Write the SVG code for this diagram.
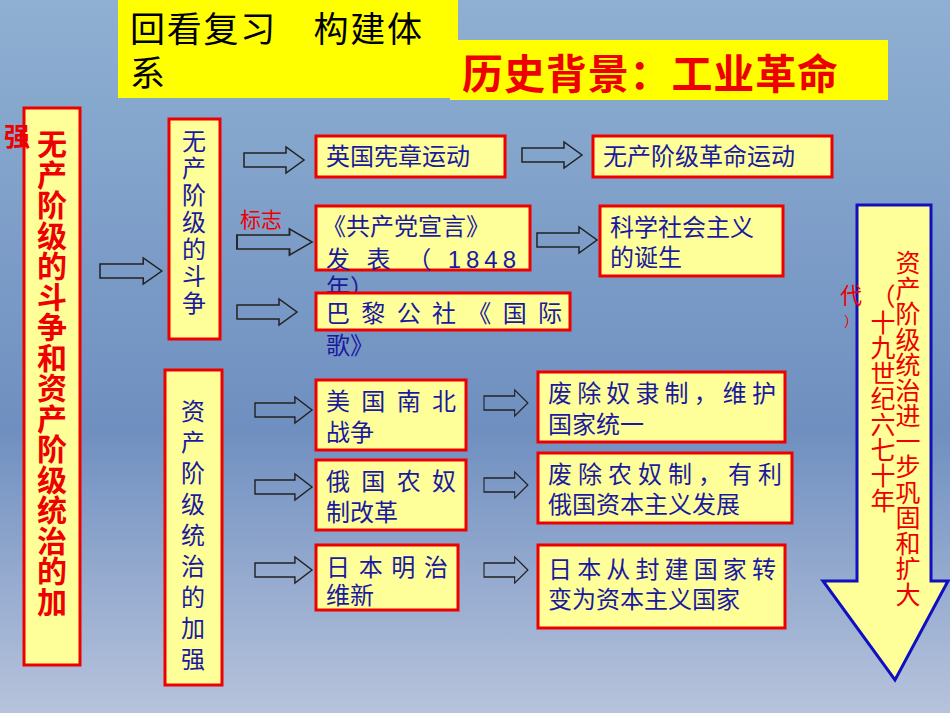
<svg xmlns="http://www.w3.org/2000/svg" width="950" height="713" viewBox="0 0 950 713">
<defs>
<linearGradient id="bg" x1="0" y1="0" x2="0" y2="1"><stop offset="0" stop-color="#8fb0d2"/><stop offset="0.6" stop-color="#6f8fc0"/><stop offset="1" stop-color="#b7c3dc"/></linearGradient>
<path id="ar" d="M0,-7 H42 V-13 L60,0 L42,13 V7 H0 Z" fill="none" stroke="#222" stroke-width="1.5"/>
<style>
.b{fill:#ffff99;stroke:#e00;stroke-width:3}
.t{font-family:"Liberation Sans","Noto Sans CJK SC",sans-serif;font-size:24px;fill:#1a1aa0}
.v{font-family:"Liberation Sans","Noto Sans CJK SC",sans-serif;text-anchor:middle}
</style>
</defs>
<rect width="950" height="713" fill="url(#bg)"/>
<g id="title"><rect x="118" y="0" width="340" height="98" fill="#ffff00"/>
<text x="130" y="42" font-family="Liberation Sans,Noto Sans CJK SC,sans-serif" font-size="35" textLength="292">回看复习　构建体</text>
<text x="130" y="86" font-family="Liberation Sans,Noto Sans CJK SC,sans-serif" font-size="35">系</text></g>
<g id="bg2"><rect x="450" y="40" width="438" height="60" fill="#ffff00"/>
<text x="462" y="89" font-family="Liberation Sans,Noto Sans CJK SC,sans-serif" font-size="41" font-weight="bold" fill="#e00" textLength="376">历史背景：工业革命</text></g>
<g id="connectors">
<use href="#ar" transform="translate(100,271) scale(1.03,1)"/>
<use href="#ar" transform="translate(244,160) scale(1.0,1)"/>
<use href="#ar" transform="translate(237,242) scale(1.25,1)"/>
<use href="#ar" transform="translate(237,312) scale(1.0,1)"/>
<use href="#ar" transform="translate(255,410) scale(0.95,1)"/>
<use href="#ar" transform="translate(255,487) scale(0.95,1)"/>
<use href="#ar" transform="translate(255,570) scale(0.95,1)"/>
<use href="#ar" transform="translate(484,403) scale(0.73,1)"/>
<use href="#ar" transform="translate(484,485) scale(0.73,1)"/>
<use href="#ar" transform="translate(484,570) scale(0.73,1)"/>
<use href="#ar" transform="translate(522,155) scale(1.0,1)"/>
<use href="#ar" transform="translate(537,240) scale(1.0,1)"/>
</g>
<text x="240" y="227" font-family="Liberation Sans,Noto Sans CJK SC,sans-serif" font-size="21" fill="#e00">标志</text>
<g id="left"><rect class="b" x="24" y="108" width="56" height="557"/>
<text class="v" x="52" font-size="30" font-weight="bold" fill="#e00"><tspan x="52" y="155">无</tspan><tspan x="52" dy="30.5">产</tspan><tspan x="52" dy="30.5">阶</tspan><tspan x="52" dy="30.5">级</tspan><tspan x="52" dy="30.5">的</tspan><tspan x="52" dy="30.5">斗</tspan><tspan x="52" dy="30.5">争</tspan><tspan x="52" dy="30.5">和</tspan><tspan x="52" dy="30.5">资</tspan><tspan x="52" dy="30.5">产</tspan><tspan x="52" dy="30.5">阶</tspan><tspan x="52" dy="30.5">级</tspan><tspan x="52" dy="30.5">统</tspan><tspan x="52" dy="30.5">治</tspan><tspan x="52" dy="30.5">的</tspan><tspan x="52" dy="30.5">加</tspan></text>
<text x="4" y="146" font-family="Liberation Sans,Noto Sans CJK SC,sans-serif" font-size="26" font-weight="bold" fill="#e00">强</text></g>
<g id="prol"><rect class="b" x="169" y="119" width="51" height="220"/>
<text class="v" font-size="24" fill="#1a1aa0"><tspan x="194" y="150">无</tspan><tspan x="194" dy="27">产</tspan><tspan x="194" dy="27">阶</tspan><tspan x="194" dy="27">级</tspan><tspan x="194" dy="27">的</tspan><tspan x="194" dy="27">斗</tspan><tspan x="194" dy="27">争</tspan></text></g>
<g id="bour"><rect class="b" x="165" y="370" width="57" height="315"/>
<text class="v" font-size="24" fill="#1a1aa0"><tspan x="193" y="420">资</tspan><tspan x="193" dy="31">产</tspan><tspan x="193" dy="31">阶</tspan><tspan x="193" dy="31">级</tspan><tspan x="193" dy="31">统</tspan><tspan x="193" dy="31">治</tspan><tspan x="193" dy="31">的</tspan><tspan x="193" dy="31">加</tspan><tspan x="193" dy="31">强</tspan></text></g>
<g id="n1"><rect class="b" x="316" y="136" width="189" height="41"/><text class="t" x="326" y="165">英国宪章运动</text></g>
<g id="n2"><rect class="b" x="593" y="136" width="239" height="41"/><text class="t" x="603" y="165">无产阶级革命运动</text></g>
<g id="n3"><rect class="b" x="316" y="206" width="214" height="64"/><text class="t" x="322" y="235">《共产党宣言》</text><text class="t" x="326" y="268" textLength="190">发 表 （ 1848</text><text class="t" x="326" y="296">年）</text></g>
<g id="n4"><rect class="b" x="600" y="206" width="183" height="70"/><text class="t" x="610" y="236">科学社会主义</text><text class="t" x="610" y="266">的诞生</text></g>
<g id="n5"><rect class="b" x="316" y="293" width="254" height="37"/><text class="t" x="326" y="322" textLength="236">巴 黎 公 社 《 国 际</text><text class="t" x="326" y="354">歌》</text></g>
<g id="n6"><rect class="b" x="316" y="380" width="150" height="70"/><text class="t" x="326" y="410" textLength="130">美 国 南 北</text><text class="t" x="326" y="441">战争</text></g>
<g id="n7"><rect class="b" x="538" y="372" width="247" height="70"/><text class="t" x="548" y="402" textLength="228">废除奴隶制，维护</text><text class="t" x="548" y="433">国家统一</text></g>
<g id="n8"><rect class="b" x="316" y="460" width="150" height="70"/><text class="t" x="326" y="490" textLength="130">俄 国 农 奴</text><text class="t" x="326" y="521">制改革</text></g>
<g id="n9"><rect class="b" x="538" y="453" width="254" height="70"/><text class="t" x="548" y="483" textLength="234">废除农奴制，有利</text><text class="t" x="548" y="513">俄国资本主义发展</text></g>
<g id="n10"><rect class="b" x="316" y="545" width="142" height="65"/><text class="t" x="326" y="576" textLength="122">日 本 明 治</text><text class="t" x="326" y="604">维新</text></g>
<g id="n11"><rect class="b" x="538" y="545" width="247" height="83"/><text class="t" x="548" y="578" textLength="228">日本从封建国家转</text><text class="t" x="548" y="608">变为资本主义国家</text></g>
<g id="bigarrow"><path d="M857,205 H931 V581 H948 L895,680 L823,581 H857 Z" fill="#ffff99" stroke="#1010c0" stroke-width="3"/>
<text class="v" font-size="25" fill="#e00"><tspan x="908" y="272">资</tspan><tspan x="908" dy="25.5">产</tspan><tspan x="908" dy="25.5">阶</tspan><tspan x="908" dy="25.5">级</tspan><tspan x="908" dy="25.5">统</tspan><tspan x="908" dy="25.5">治</tspan><tspan x="908" dy="25.5">进</tspan><tspan x="908" dy="25.5">一</tspan><tspan x="908" dy="25.5">步</tspan><tspan x="908" dy="25.5">巩</tspan><tspan x="908" dy="25.5">固</tspan><tspan x="908" dy="25.5">和</tspan><tspan x="908" dy="25.5">扩</tspan><tspan x="908" dy="25.5">大</tspan></text>
<text class="v" font-size="25" fill="#e00"><tspan x="883" y="306">（</tspan><tspan x="883" dy="25.5">十</tspan><tspan x="883" dy="25.5">九</tspan><tspan x="883" dy="25.5">世</tspan><tspan x="883" dy="25.5">纪</tspan><tspan x="883" dy="25.5">六</tspan><tspan x="883" dy="25.5">七</tspan><tspan x="883" dy="25.5">十</tspan><tspan x="883" dy="25.5">年</tspan></text>
<text class="v" font-size="22" fill="#e00"><tspan x="851" y="303">代</tspan><tspan x="851" y="326" font-size="14">）</tspan></text></g>
</svg>
